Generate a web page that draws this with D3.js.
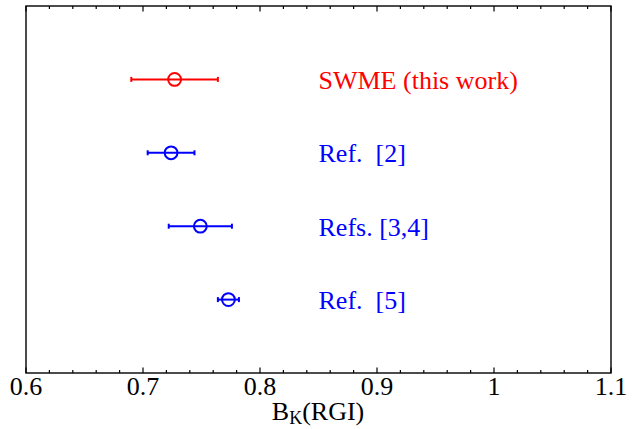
<!DOCTYPE html>
<html><head><meta charset="utf-8">
<script src="https://cdn.jsdelivr.net/npm/d3@7"></script>
<style>body{margin:0;background:#fff}svg{display:block}</style>
</head><body>
<svg id="c" width="641" height="429"></svg>
<script>
const labels = ["SWME (this work)", "Ref.  [2]", "Refs. [3,4]", "Ref.  [5]"];
const centers = [0.727, 0.724, 0.749, 0.773];
const errLow = [0.690, 0.704, 0.722, 0.764];
const errHigh = [0.764, 0.744, 0.776, 0.782];
const colors = ["#ff0000", "#0000ff", "#0000ff", "#0000ff"];
const xTicks = [0.6, 0.7, 0.8, 0.9, 1.0, 1.1];
const xTickLabels = ["0.6", "0.7", "0.8", "0.9", "1", "1.1"];
const labelX = 0.85;

const svg = d3.select("#c");
const L = 26, R = 611, T = 6, B = 373;
const x = d3.scaleLinear().domain([0.6, 1.1]).range([L, R]);
const y = d3.scaleLinear().domain([0, 5]).range([T, B]);
const font = "Liberation Serif, Times New Roman, serif";

// frame
svg.append("rect").attr("x", L).attr("y", T).attr("width", R - L).attr("height", B - T)
  .attr("fill", "none").attr("stroke", "#000").attr("stroke-width", 1.4);

// ticks
const minor = d3.range(0.6, 1.1001, 0.02).map(v => +v.toFixed(2));
const g = svg.append("g");
minor.forEach(v => {
  const major = xTicks.some(t => Math.abs(t - v) < 1e-6);
  const len = major ? 5.5 : 3;
  g.append("line").attr("x1", x(v)).attr("x2", x(v)).attr("y1", B).attr("y2", B - len)
    .attr("stroke", "#000").attr("stroke-width", 1.2);
  g.append("line").attr("x1", x(v)).attr("x2", x(v)).attr("y1", T).attr("y2", T + len)
    .attr("stroke", "#000").attr("stroke-width", 1.2);
});
xTicks.forEach((v, i) => {
  svg.append("text").attr("x", x(v)).attr("y", 395).attr("text-anchor", "middle")
    .attr("font-family", font).attr("font-size", 26).text(xTickLabels[i]);
});

// axis title
const t = svg.append("text").attr("x", 318).attr("y", 420).attr("text-anchor", "middle")
  .attr("font-family", font).attr("font-size", 26);
t.append("tspan").text("B");
t.append("tspan").attr("font-size", 18).attr("dy", 4).text("K");
t.append("tspan").attr("dy", -4).text("(RGI)");

// points
labels.forEach((lab, i) => {
  const cy = y(i + 1);
  const c = colors[i];
  svg.append("line").attr("x1", x(errLow[i])).attr("x2", x(errHigh[i])).attr("y1", cy).attr("y2", cy)
    .attr("stroke", c).attr("stroke-width", 2);
  [errLow[i], errHigh[i]].forEach(v => {
    svg.append("line").attr("x1", x(v)).attr("x2", x(v)).attr("y1", cy - 2.5).attr("y2", cy + 2.5)
      .attr("stroke", c).attr("stroke-width", 2);
  });
  svg.append("circle").attr("cx", x(centers[i])).attr("cy", cy).attr("r", 6.4)
    .attr("fill", "none").attr("stroke", c).attr("stroke-width", 2);
  svg.append("text").attr("x", x(labelX)).attr("y", cy + 9.5).attr("fill", c)
    .attr("font-family", font).attr("font-size", 26).attr("xml:space", "preserve")
    .style("white-space", "pre").text(lab);
});
</script>
</body></html>
